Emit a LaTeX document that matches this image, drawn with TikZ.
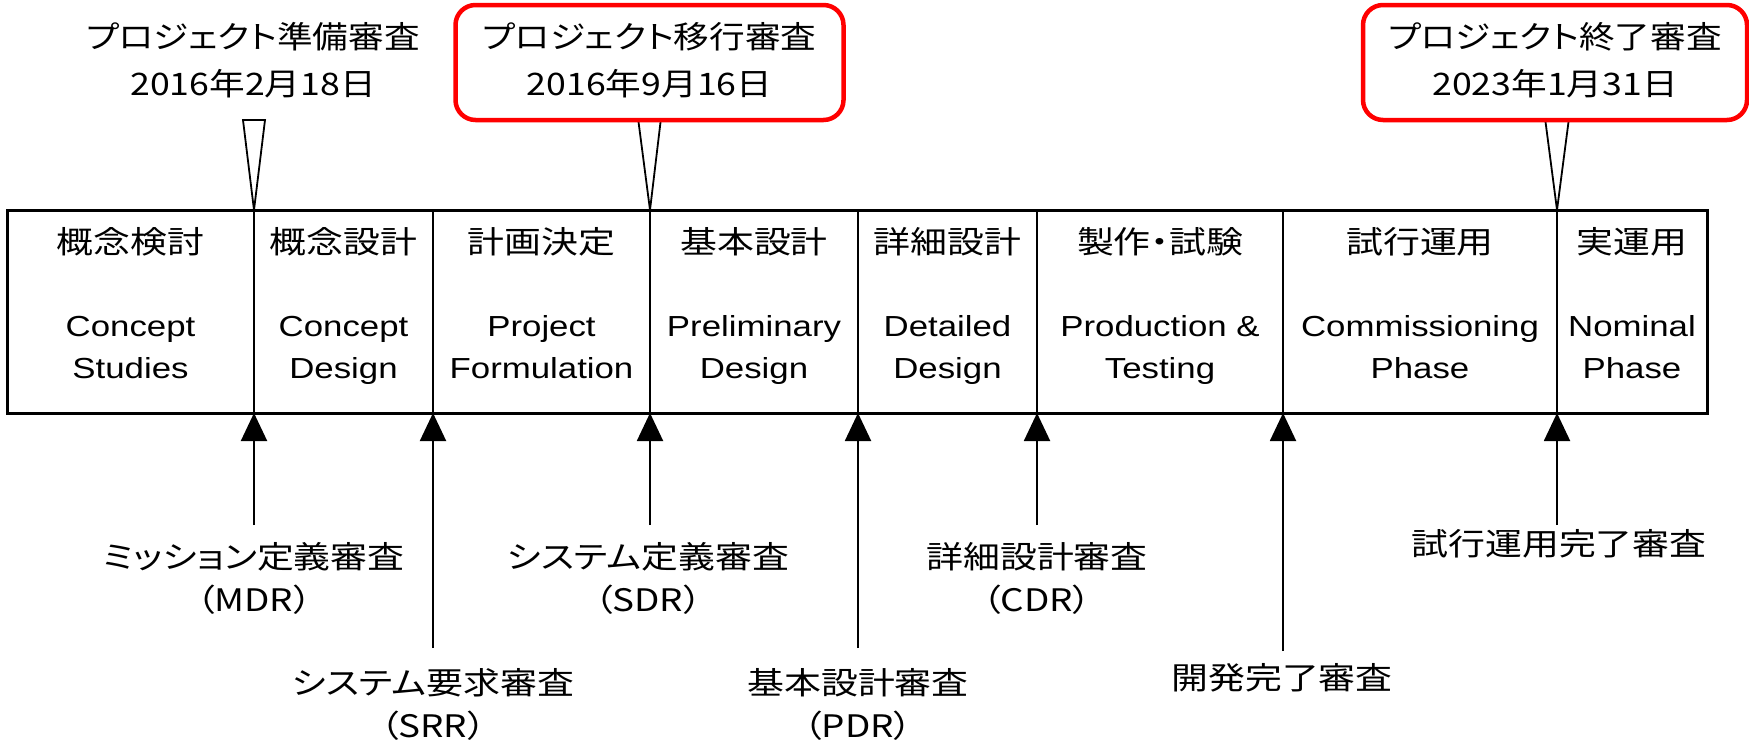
\documentclass[tikz,border=0pt]{standalone}
\usepackage{fontspec}
\setmainfont{Liberation Sans}[FakeStretch=1.2]
\newfontfamily\jp{Noto Sans CJK JP}[FakeStretch=1.19,CharacterWidth=AlternateProportional]
\newfontfamily\jptop{Noto Sans CJK JP}[FakeStretch=1.15,CharacterWidth=AlternateProportional]
\usetikzlibrary{arrows.meta}
\definecolor{boxred}{RGB}{255,0,0}
\newcommand{\ls}{\strut}
\tikzset{
  phase/.style={draw, line width=1pt, inner sep=0pt, outer sep=0pt, minimum height=101.5pt},
  jptxt/.style={font=\jp\fontsize{15.5pt}{21.5pt}\selectfont, align=center, inner sep=0pt},
  entxt/.style={font=\fontsize{14.5pt}{21pt}\selectfont, align=center, inner sep=0pt},
  toptxt/.style={font=\jptop\fontsize{15.5pt}{23.5pt}\selectfont, align=center, inner sep=0pt},
  redbox/.style={draw=boxred, line width=2.25pt, rounded corners=10pt, fill=white,
    minimum height=57.5pt, inner sep=0pt, align=center, font=\jptop\fontsize{15.5pt}{23.5pt}\selectfont},
  ptr/.style={draw=black, fill=white, line width=0.9pt},
  arr/.style={-{Triangle[length=14pt,width=13pt]}, line width=1pt},
}
\begin{document}
\begin{tikzpicture}[x=0.5pt,y=-0.5pt]
\useasboundingbox (0,0) rectangle (1749,751);
\fill[white] (0,0) rectangle (1749,751);

% phase boxes
\node[phase, minimum width=123.5pt] (p1) at (130.5,311.5) {};
\node[phase, minimum width=89.5pt]  (p2) at (343.5,311.5) {};
\node[phase, minimum width=108.5pt] (p3) at (541.5,311.5) {};
\node[phase, minimum width=104pt]   (p4) at (754,311.5) {};
\node[phase, minimum width=89.5pt]  (p5) at (947.5,311.5) {};
\node[phase, minimum width=123pt]   (p6) at (1160,311.5) {};
\node[phase, minimum width=137pt]   (p7) at (1420,311.5) {};
\node[phase, minimum width=75pt]    (p8) at (1632,311.5) {};
\draw[line width=1.5pt] (p1.north west) rectangle (p8.south east);

% phase texts
\node[jptxt] (j1) at (130.5,245) {概念検討\ls};
\node[jptxt] (j2) at (343.5,245) {概念設計\ls};
\node[jptxt] (j3) at (541.5,245) {計画決定\ls};
\node[jptxt] (j4) at (754,245) {基本設計\ls};
\node[jptxt] (j5) at (947.5,245) {詳細設計\ls};
\node[jptxt] (j6) at (1160,245) {製作・試験\ls};
\node[jptxt] (j7) at (1420,245) {試行運用\ls};
\node[jptxt] (j8) at (1632,245) {実運用\ls};

\node[entxt] (e1) at (130.5,349) {Concept\ls\\Studies\ls};
\node[entxt] (e2) at (343.5,349) {Concept\ls\\Design\ls};
\node[entxt] (e3) at (541.5,349) {Project\ls\\Formulation\ls};
\node[entxt] (e4) at (754,349) {Preliminary\ls\\Design\ls};
\node[entxt] (e5) at (947.5,349) {Detailed\ls\\Design\ls};
\node[entxt] (e6) at (1160,349) {Production \&\ls\\Testing\ls};
\node[entxt] (e7) at (1420,349) {Commissioning\ls\\Phase\ls};
\node[entxt] (e8) at (1632,349) {Nominal\ls\\Phase\ls};

% top milestones
\filldraw[ptr] (243,120) -- (265,120) -- (p1.north east) -- cycle;
\node[toptxt] (t1) at (253,62.5) {プロジェクト準備審査\ls\\2016年2月18日\ls};
\filldraw[ptr] (638,118) -- (661,118) -- (p3.north east) -- cycle;
\node[redbox, minimum width=194pt] (t2) at (649.5,62.5) {プロジェクト移行審査\ls\\2016年9月16日\ls};
\filldraw[ptr] (1545,118) -- (1569,118) -- (p7.north east) -- cycle;
\node[redbox, minimum width=192pt] (t3) at (1555,62.5) {プロジェクト終了審査\ls\\2023年1月31日\ls};

% bottom reviews
\coordinate (s1) at (254,525);
\coordinate (s2) at (433,648);
\coordinate (s3) at (650,525);
\coordinate (s4) at (858,648);
\coordinate (s5) at (1037,525);
\coordinate (s6) at (1283,651);
\coordinate (s7) at (1557,525);
\draw[arr] (s1) -- (p1.south east);
\draw[arr] (s2) -- (p2.south east);
\draw[arr] (s3) -- (p3.south east);
\draw[arr] (s4) -- (p4.south east);
\draw[arr] (s5) -- (p5.south east);
\draw[arr] (s6) -- (p6.south east);
\draw[arr] (s7) -- (p7.south east);

\node[jptxt] (r1) at (254,581.5) {ミッション定義審査\ls\\（MDR）\ls};
\node[jptxt] (r2) at (433,707.5) {システム要求審査\ls\\（SRR）\ls};
\node[jptxt] (r3) at (648,581.5) {システム定義審査\ls\\（SDR）\ls};
\node[jptxt] (r4) at (858,707.5) {基本設計審査\ls\\（PDR）\ls};
\node[jptxt] (r5) at (1037,581.5) {詳細設計審査\ls\\（CDR）\ls};
\node[jptxt] (r6) at (1282,681) {開発完了審査\ls};
\node[jptxt] (r7) at (1559,547) {試行運用完了審査\ls};
\end{tikzpicture}
\end{document}
